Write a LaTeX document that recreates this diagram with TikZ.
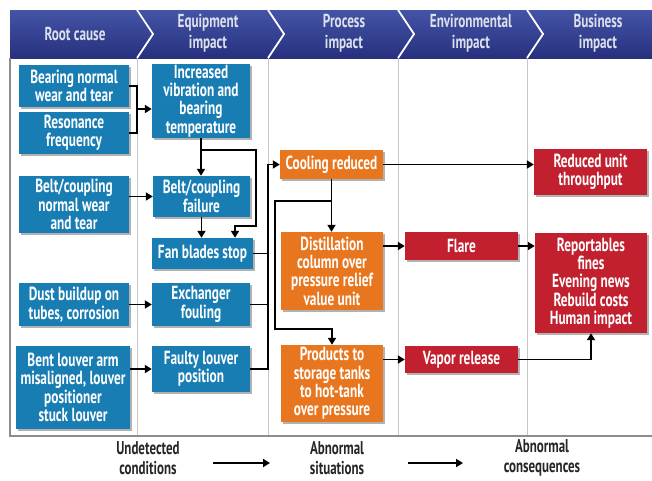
\documentclass[tikz,border=0pt]{standalone}
\usepackage{fontspec}
\setmainfont{PT Sans}[FakeStretch=0.7]
\usetikzlibrary{arrows.meta,shadows,calc}
\definecolor{bxblue}{HTML}{177DB3}
\definecolor{bxorange}{HTML}{E8761E}
\definecolor{bxred}{HTML}{C2202E}
\definecolor{hdtop}{HTML}{4454A6}
\definecolor{hdbot}{HTML}{27307E}
\definecolor{hdtext}{HTML}{DCE0EC}
\newcommand\boxfont{\fontsize{19}{18.3}\selectfont\bfseries}
\newcommand\hdrfont{\fontsize{18.8}{21}\selectfont\bfseries}
\newcommand\footfont{\fontsize{18.5}{19.5}\selectfont\bfseries}
\tikzset{
  bx/.style={rectangle, align=center, inner sep=0pt, font=\boxfont, text=white,
    drop shadow={shadow xshift=1.5pt, shadow yshift=-1.5pt, opacity=0.3, fill=black}},
  bluebox/.style={bx, fill=bxblue},
  orangebox/.style={bx, fill=bxorange},
  redbox/.style={bx, fill=bxred},
  hdr/.style={align=center, inner sep=0pt, font=\hdrfont, text=hdtext},
  foot/.style={align=center, inner sep=0pt, font=\footfont, text=black!85},
  ln/.style={line width=1.8pt, black},
  arr/.style={line width=1.8pt, black, -{Triangle[length=7pt,width=8pt]}},
  colline/.style={line width=0.8pt, black!22},
  chev/.style={line width=1.8pt, white}
}
\begin{document}
\begin{tikzpicture}[x=1pt, y=-1pt]
\useasboundingbox (0,0) rectangle (652,480);
% header band
\shade[top color=hdtop, bottom color=hdbot] (10,10) rectangle (652,58);
\draw[chev] (137,10) -- (153,34) -- (137,58);
\draw[chev] (268,10) -- (284,34) -- (268,58);
\draw[chev] (398,10) -- (414,34) -- (398,58);
\draw[chev] (527,10) -- (543,34) -- (527,58);
\node[hdr] (h1) at (75,34) {Root cause};
\node[hdr] (h2) at (208,33) {Equipment\\impact};
\node[hdr] (h3) at (344,33) {Process\\impact};
\node[hdr] (h4) at (471,33) {Environmental\\impact};
\node[hdr] (h5) at (598,33) {Business\\impact};
% panel
\draw[colline] (137,58) -- (137,436);
\draw[colline] (268,58) -- (268,436);
\draw[colline] (398,58) -- (398,436);
\draw[colline] (527,58) -- (527,436);
\draw[line width=1.3pt, black!45] (10,58) -- (10,436) -- (652,436);
% blue boxes
\node[bluebox, minimum width=110pt, minimum height=42pt] (bear) at (74,86) {Bearing normal\\wear and tear};
\node[bluebox, minimum width=110pt, minimum height=42pt] (reso) at (74,133) {Resonance\\frequency};
\node[bluebox, minimum width=98pt, minimum height=74pt] (incr) at (201,101) {Increased\\vibration and\\bearing\\temperature};
\node[bluebox, minimum width=110pt, minimum height=57pt] (beltw) at (74,204.5) {Belt/coupling\\normal wear\\and tear};
\node[bluebox, minimum width=97pt, minimum height=41pt] (beltf) at (201.5,196.5) {Belt/coupling\\failure};
\node[bluebox, minimum width=101pt, minimum height=31pt] (fan) at (202.5,253.5) {Fan blades stop};
\node[bluebox, minimum width=110pt, minimum height=43pt] (dust) at (74,304.5) {Dust buildup on\\tubes, corrosion};
\node[bluebox, minimum width=98pt, minimum height=43pt] (exch) at (201,304.5) {Exchanger\\fouling};
\node[bluebox, minimum width=114pt, minimum height=83pt] (bent) at (73,387.5) {Bent louver arm\\misaligned, louver\\positioner\\stuck louver};
\node[bluebox, minimum width=98pt, minimum height=46pt] (faulty) at (201,369) {Faulty louver\\position};
% orange boxes
\node[orangebox, minimum width=103pt, minimum height=29pt] (cool) at (331.5,164.5) {Cooling reduced};
\node[orangebox, minimum width=102pt, minimum height=78pt] (dist) at (332,271) {Distillation\\column over\\pressure relief\\value unit};
\node[orangebox, minimum width=102pt, minimum height=77pt] (prod) at (332,383.5) {Products to\\storage tanks\\to hot-tank\\over pressure};
% red boxes
\node[redbox, minimum width=113pt, minimum height=46pt] (rut) at (590.5,172) {Reduced unit\\throughput};
\node[redbox, minimum width=113pt, minimum height=28pt] (flare) at (461.5,246) {Flare};
\node[redbox, minimum width=112pt, minimum height=100pt] (rep) at (591,283) {Reportables\\fines\\Evening news\\Rebuild costs\\Human impact};
\node[redbox, minimum width=113pt, minimum height=27pt] (vapor) at (461.5,359.5) {Vapor release};
% connectors: root cause -> equipment
\coordinate (brk) at (137,109);
\draw[ln] (bear.east) -| (brk) |- (reso.east);
\draw[arr] (brk) -- (brk -| incr.west);
\draw[arr] (beltw.east |- beltf.west) -- (beltf.west);
\draw[arr] (dust.east |- exch.west) -- (exch.west);
\draw[arr] (bent.east |- faulty.west) -- (faulty.west);
% equipment internal
\draw[arr] (incr.south) -- (incr.south |- beltf.north);
\coordinate (j1) at (201,150);
\coordinate (j2) at (256,226);
\coordinate (j3) at (235,226);
\draw[arr] (j1) -| (j2) -- (j3) -- (j3 |- fan.north);
\draw[arr] (beltf.south) -- (beltf.south |- fan.north);
% bus to cooling reduced
\coordinate (bt) at (268,369);
\coordinate (bu) at (268,164.5);
\draw[ln] (fan.east) -- (fan.east -| bt);
\draw[ln] (exch.east) -- (exch.east -| bt);
\draw[arr] (faulty.east) -- (bt) -- (bu) -- (cool.west);
% process internal
\draw[arr] (cool.south) -- (cool.south |- dist.north);
\coordinate (k1) at (331.5,201);
\coordinate (k2) at (275,329);
\draw[arr] (k1) -| (k2) -| (prod.north);
% process -> environmental / business
\draw[arr] (cool.east) -- (cool.east -| rut.west);
\draw[arr] (dist.east |- flare.west) -- (flare.west);
\draw[arr] (flare.east) -- (flare.east -| rep.west);
\draw[arr] (prod.east |- vapor.west) -- (vapor.west);
\draw[arr] (vapor.east) -| (rep.south);
% footer
\node[foot] (u) at (148,458) {Undetected\\conditions};
\node[foot] (s) at (337,458) {Abnormal\\situations};
\node[foot] (c) at (542,458) {Abnormal\\consequences};
\coordinate (f1) at (213,463);
\coordinate (f2) at (270,463);
\coordinate (f3) at (408,463);
\coordinate (f4) at (463,463);
\draw[arr] (f1) -- (f2);
\draw[arr] (f3) -- (f4);
\end{tikzpicture}
\end{document}
